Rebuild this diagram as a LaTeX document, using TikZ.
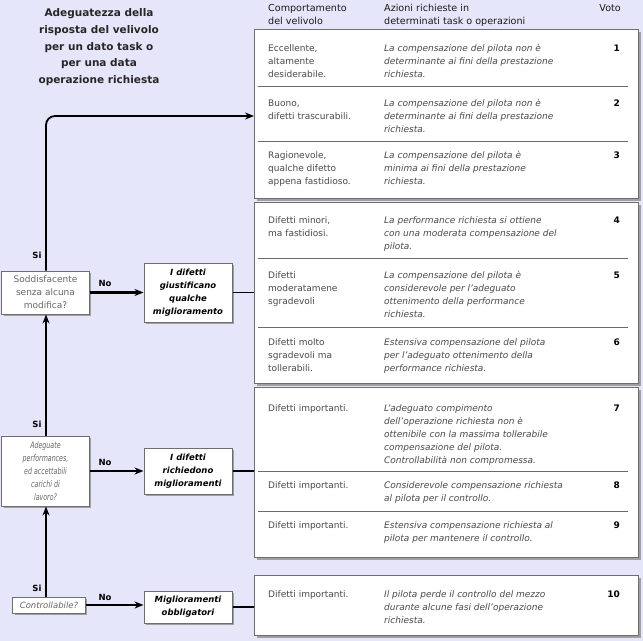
\documentclass[tikz,border=0pt]{standalone}
\usepackage{fontspec}
\setmainfont{DejaVu Sans}
\newfontfamily\narrowfont[FakeStretch=0.7]{DejaVu Sans}
\usetikzlibrary{arrows.meta,shadows}
\definecolor{bg}{HTML}{E6E6FA}
\definecolor{txt}{HTML}{4A4A4A}
\definecolor{qtxt}{HTML}{666666}
\definecolor{grpline}{HTML}{6E6E6E}
\definecolor{shadowc}{HTML}{A0A0A0}
\definecolor{sepc}{HTML}{6A6A6A}
\newcommand{\tl}[1]{\begin{tabular}[t]{@{}l@{}}#1\end{tabular}}
\newcommand{\tcn}[1]{\begin{tabular}[t]{@{}c@{}}#1\end{tabular}}
\begin{document}
\begin{tikzpicture}[x=1bp,y=-1bp,
  body/.style={font=\fontsize{9bp}{13bp}\selectfont, text=txt, inner sep=0pt, anchor=base west},
  acttxt/.style={body, font=\fontsize{9bp}{13bp}\selectfont\itshape},
  num/.style={font=\fontsize{9bp}{11bp}\selectfont\bfseries, inner sep=0pt, anchor=base east},
  head/.style={font=\fontsize{9.6bp}{13.5bp}\selectfont, text=black!90, inner sep=0pt, anchor=base west},
  grp/.style={draw=grpline, line width=1bp, fill=white, inner sep=0pt, anchor=north west,
    drop shadow={shadow xshift=2.5bp, shadow yshift=-2.5bp, fill=shadowc, opacity=1}},
  sep/.style={draw=sepc, line width=1bp},
  qbox/.style={draw=grpline, line width=1bp, fill=white, inner sep=0pt, align=center,
    font=\fontsize{9bp}{13bp}\selectfont, text=qtxt,
    drop shadow={shadow xshift=2bp, shadow yshift=-2bp, fill=shadowc, opacity=1}},
  abox/.style={qbox, text=black, font=\fontsize{8.5bp}{13bp}\selectfont\bfseries\itshape},
  lab/.style={font=\fontsize{8.5bp}{10bp}\selectfont\bfseries, inner sep=0pt},
  vert/.style={line width=1.8bp, draw=black},
  noarr/.style={line width=2.6bp, draw=black, -{Stealth[length=9bp,width=7bp]}},
  link/.style={line width=1.2bp, draw=black}
]
\useasboundingbox[fill=bg] (0,0) rectangle (643,641);

% title
\node[font=\fontsize{10.5bp}{16.8bp}\selectfont\bfseries, text=black!85, inner sep=0pt, anchor=base] (title) at (99,16.5)
  {\tcn{Adeguatezza della\\risposta del velivolo\\per un dato task o\\per una data\\operazione richiesta}};

% header
\node[head] (h1) at (268,11.5) {\tl{Comportamento\\del velivolo}};
\node[head] (h2) at (384,11.5) {\tl{Azioni richieste in\\determinati task o operazioni}};
\node[head, anchor=base east] (h3) at (621,11.5) {Voto};

% group boxes
\node[grp, minimum width=384bp, minimum height=169bp] (g1) at (254,29) {};
\node[grp, minimum width=384bp, minimum height=181bp] (g2) at (254,202) {};
\node[grp, minimum width=384bp, minimum height=170bp] (g3) at (254,387) {};
\node[grp, minimum width=384bp, minimum height=60bp] (g4) at (254,575) {};

% separators
\draw[sep] (258,87) -- (628,87);
\draw[sep] (258,142) -- (628,142);
\draw[sep] (258,258) -- (628,258);
\draw[sep] (258,327) -- (628,327);
\draw[sep] (258,471) -- (628,471);
\draw[sep] (258,511) -- (628,511);

% rows
\node[body] (c11) at (268,51.5) {\tl{Eccellente,\\altamente\\desiderabile.}};
\node[acttxt] (c12) at (384,51.5) {\tl{La compensazione del pilota non è\\determinante ai fini della prestazione\\richiesta.}};
\node[num] (n1) at (620,51.5) {1};

\node[body] (c21) at (268,107) {\tl{Buono,\\difetti trascurabili.}};
\node[acttxt] (c22) at (384,107) {\tl{La compensazione del pilota non è\\determinante ai fini della prestazione\\richiesta.}};
\node[num] (n2) at (620,107) {2};

\node[body] (c31) at (268,158.5) {\tl{Ragionevole,\\qualche difetto\\appena fastidioso.}};
\node[acttxt] (c32) at (384,158.5) {\tl{La compensazione del pilota è\\minima ai fini della prestazione\\richiesta.}};
\node[num] (n3) at (620,158.5) {3};

\node[body] (c41) at (268,223) {\tl{Difetti minori,\\ma fastidiosi.}};
\node[acttxt] (c42) at (384,223) {\tl{La performance richiesta si ottiene\\con una moderata compensazione del\\pilota.}};
\node[num] (n4) at (620,223) {4};

\node[body] (c51) at (268,278) {\tl{Difetti\\moderatamene\\sgradevoli}};
\node[acttxt] (c52) at (384,278) {\tl{La compensazione del pilota è\\considerevole per l'adeguato\\ottenimento della performance\\richiesta.}};
\node[num] (n5) at (620,278) {5};

\node[body] (c61) at (268,345) {\tl{Difetti molto\\sgradevoli ma\\tollerabili.}};
\node[acttxt] (c62) at (384,345) {\tl{Estensiva compensazione del pilota\\per l'adeguato ottenimento della\\performance richiesta.}};
\node[num] (n6) at (620,345) {6};

\node[body] (c71) at (268,411) {Difetti importanti.};
\node[acttxt] (c72) at (384,411) {\tl{L'adeguato compimento\\dell'operazione richiesta non è\\ottenibile con la massima tollerabile\\compensazione del pilota.\\Controllabilità non compromessa.}};
\node[num] (n7) at (620,411) {7};

\node[body] (c81) at (268,488.5) {Difetti importanti.};
\node[acttxt] (c82) at (384,488.5) {\tl{Considerevole compensazione richiesta\\al pilota per il controllo.}};
\node[num] (n8) at (620,488.5) {8};

\node[body] (c91) at (268,528.5) {Difetti importanti.};
\node[acttxt] (c92) at (384,528.5) {\tl{Estensiva compensazione richiesta al\\pilota per mantenere il controllo.}};
\node[num] (n9) at (620,528.5) {9};

\node[body] (c101) at (268,597.5) {Difetti importanti.};
\node[acttxt] (c102) at (384,597.5) {\tl{Il pilota perde il controllo del mezzo\\durante alcune fasi dell'operazione\\richiesta.}};
\node[num] (n10) at (620,597.5) {10};

% decision boxes
\node[qbox, minimum width=87bp, minimum height=43bp] (sodd) at (45.5,292.5) {Soddisfacente\\senza alcuna\\modifica?};
\node[abox, minimum width=88bp, minimum height=59bp] (act1) at (188,292.5) {I difetti\\giustificano\\qualche\\miglioramento};
\node[qbox, minimum width=87bp, minimum height=70bp, font=\fontsize{9bp}{13bp}\narrowfont\itshape] (adeg) at (45.5,471) {Adeguate\\performances,\\ed accettabili\\carichi di\\lavoro?};
\node[abox, minimum width=88bp, minimum height=46bp] (act2) at (188,471) {I difetti\\richiedono\\miglioramenti};
\node[qbox, minimum width=72bp, minimum height=16bp, font=\fontsize{8.5bp}{13bp}\selectfont\itshape] (ctrl) at (49,605) {Controllabile?};
\node[abox, minimum width=88bp, minimum height=32bp] (act3) at (188,607) {Miglioramenti\\obbligatori};

\coordinate (vx) at (46,0);

% vertical connectors
\draw[vert, rounded corners=9bp, -{Stealth[length=9bp,width=7bp]}] (sodd.north -| vx) |- (g1.west |- 0,116);
\draw[vert, -{Stealth[length=9bp,width=7bp]}] (adeg.north -| vx) -- (sodd.south -| vx);
\draw[vert, -{Stealth[length=9bp,width=7bp]}] (ctrl.north -| vx) -- (adeg.south -| vx);

% No arrows
\draw[noarr] (sodd.east) -- (act1.west);
\draw[noarr] (adeg.east) -- (act2.west);
\draw[noarr] (ctrl.east) -- (ctrl.east -| act3.west);

% links to groups
\draw[link] (act1.east) -- (act1.east -| g2.west);
\draw[link] (act2.east) -- (act2.east -| g3.west);
\draw[link] (act3.east) -- (act3.east -| g4.west);

% labels
\node[lab] (si1) at (37,255) {Si};
\node[lab] (si2) at (37,424) {Si};
\node[lab] (si3) at (37,588) {Si};
\node[lab] (no1) at (105,283) {No};
\node[lab] (no2) at (105,462) {No};
\node[lab] (no3) at (105,597) {No};
\end{tikzpicture}
\end{document}
